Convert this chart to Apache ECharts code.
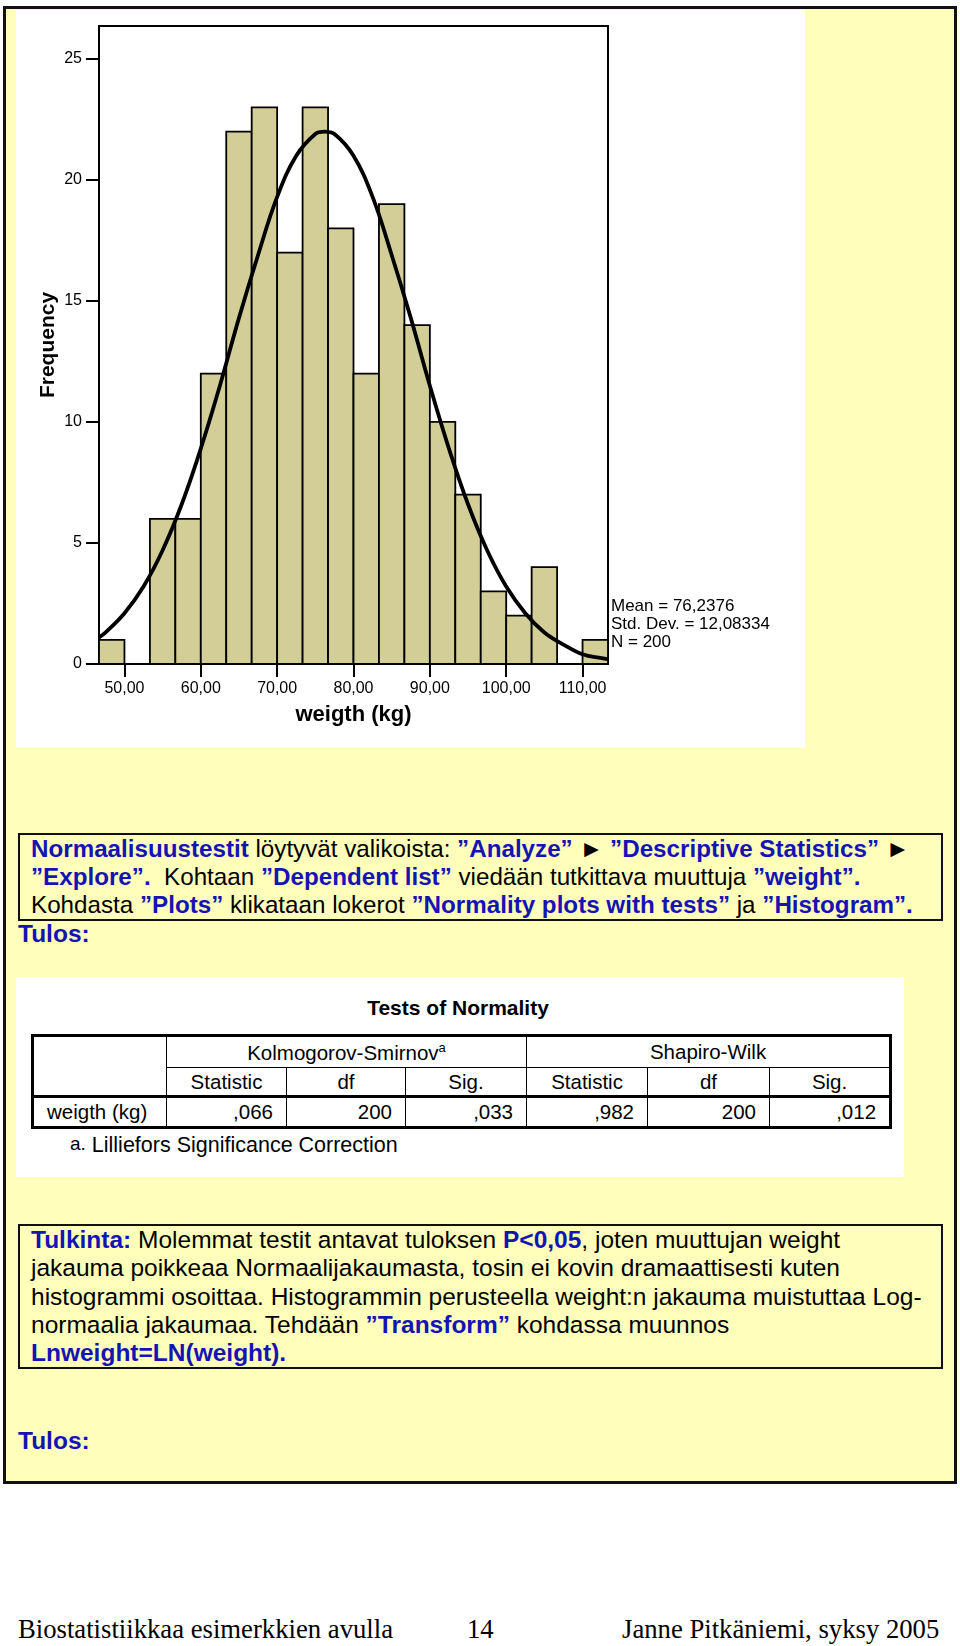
<!DOCTYPE html>
<html>
<head>
<meta charset="utf-8">
<script src="https://cdn.jsdelivr.net/npm/echarts@6.0.0/dist/echarts.min.js"></script>
<style>
  html, body { margin: 0; padding: 0; background: #fff; }
  body { width: 960px; height: 1646px; position: relative; font-family: "Liberation Sans", Arial, sans-serif; }
  .page { position: absolute; left: 3px; top: 6px; width: 954px; height: 1478px; box-sizing: border-box;
          border: 3px solid #111; background: #FFFFBB; }
  .panel { position: absolute; background: #fff; }
  .abs { position: absolute; white-space: nowrap; }
  .blue { color: #1414B4; font-weight: bold; }
  .box { position: absolute; left: 18px; width: 925px; box-sizing: border-box; border: 2px solid #111;
         padding-left: 11px; color: #000; white-space: nowrap; }
  #chart { position: absolute; left: 0; top: 0; width: 960px; height: 760px; }
  table.norm { position: absolute; left: 31px; top: 1034px; width: 858px; border-collapse: collapse;
               table-layout: fixed; border: 3px solid #000; font-size: 20.5px; }
  table.norm td { border-left: 1px solid #000; border-right: 1px solid #000; padding: 0 13px; white-space: nowrap; }
  table.norm .c { text-align: center; }
  table.norm .r { text-align: right; }
  .footer { position: absolute; top: 1614px; font-family: "Liberation Serif", "Times New Roman", serif; font-size: 26.7px; }
</style>
</head>
<body>
<div class="page"></div>
<div class="panel" style="left:16px; top:10px; width:789px; height:738px;"></div>
<div id="chart"></div>

<div class="box" style="top:833px; height:88px; line-height:28px; font-size:24.2px;" id="box1"></div>
<div class="abs blue" style="left:18px; top:920px; font-size:24.5px; line-height:28px;">Tulos:</div>

<div class="panel" style="left:16px; top:977px; width:888px; height:200px;"></div>
<div class="abs" style="left:0; width:916px; text-align:center; top:996px; font-size:21px; font-weight:bold;">Tests of Normality</div>
<table class="norm" id="normTable"></table>
<div class="abs" style="left:70px; top:1133px; font-size:21.5px;"><span style="font-size:19px; position:relative; top:-2px;">a.</span> Lilliefors Significance Correction</div>

<div class="box" style="top:1224px; height:145px; line-height:28.3px; font-size:24.5px;" id="box2"></div>
<div class="abs blue" style="left:18px; top:1427px; font-size:24.5px; line-height:28px;">Tulos:</div>

<div class="footer" style="left:18px;">Biostatistiikkaa esimerkkien avulla</div>
<div class="footer" style="left:467px;">14</div>
<div class="footer" style="left:622px;">Janne Pitkäniemi, syksy 2005</div>

<script>
// histogram of weight, 20 bins of 3.333 kg
const binStart = 46.6667;
const binWidth = 3.3333;
const counts = [1, 0, 6, 6, 12, 22, 23, 17, 23, 18, 12, 19, 14, 10, 7, 3, 2, 4, 0, 1];

// fitted normal curve
const curveX = [46.67, 47.5, 50, 52.5, 55, 57.5, 60, 62.5, 65, 67.5, 70, 72.5, 75, 76.2, 77.5, 80, 82.5, 85, 87.5, 90, 92.5, 95, 97.5, 100, 102.5, 105, 107.5, 110, 112.5, 113.33];
const curveY = [1.1, 1.3, 2.1, 3.2, 4.7, 6.6, 8.9, 11.5, 14.3, 16.9, 19.3, 21.0, 21.9, 22.0, 21.9, 21.0, 19.3, 16.9, 14.3, 11.5, 8.9, 6.6, 4.7, 3.2, 2.1, 1.3, 0.8, 0.4, 0.24, 0.2];

// axis ticks
const xTicks = [50, 60, 70, 80, 90, 100, 110];
const yTicks = [0, 5, 10, 15, 20, 25];

const statLines = ['Mean = 76,2376', 'Std. Dev. = 12,08334', 'N = 200'];

// Tests of Normality table
const testGroups = ['Kolmogorov-Smirnov', 'Shapiro-Wilk'];
const colHeads = ['Statistic', 'df', 'Sig.', 'Statistic', 'df', 'Sig.'];
const rowLabel = 'weigth (kg)';
const rowValues = [',066', '200', ',033', ',982', '200', ',012'];

const FONT = '"Liberation Sans", Arial, sans-serif';

const binData = counts.map((c, i) => [binStart + i * binWidth, binStart + (i + 1) * binWidth, c]);
const curveData = curveX.map((x, i) => [x, curveY[i]]);

const chart = echarts.init(document.getElementById('chart'));

const option = {
    animation: false,
    grid: {
        left: 99, top: 26, width: 509, height: 638,
        show: true, borderColor: '#000', borderWidth: 2, backgroundColor: 'transparent'
    },
    xAxis: {
        type: 'value',
        min: binStart,
        max: binStart + counts.length * binWidth,
        name: 'weigth (kg)',
        nameLocation: 'middle',
        nameGap: 40,
        nameTextStyle: { fontFamily: FONT, fontSize: 22, fontWeight: 'bold', color: '#000' },
        splitLine: { show: false },
        axisLine: { lineStyle: { color: '#000', width: 2 } },
        axisTick: { length: 13, lineStyle: { color: '#000', width: 2 }, customValues: xTicks },
        axisLabel: {
            customValues: xTicks, margin: 17,
            fontFamily: FONT, fontSize: 16, color: '#000',
            formatter: v => v.toFixed(2).replace('.', ',')
        }
    },
    yAxis: {
        type: 'value',
        min: 0,
        max: 26.36,
        name: 'Frequency',
        nameLocation: 'middle',
        nameGap: 40,
        nameMoveOverlap: false,
        nameTextStyle: { fontFamily: FONT, fontSize: 21, fontWeight: 'bold', color: '#000' },
        splitLine: { show: false },
        axisLine: { show: true, lineStyle: { color: '#000', width: 2 } },
        axisTick: { show: true, length: 13, lineStyle: { color: '#000', width: 2 }, customValues: yTicks },
        axisLabel: { customValues: yTicks, margin: 17, fontFamily: FONT, fontSize: 16, color: '#000' }
    },
    graphic: [{
        type: 'text',
        left: 611,
        top: 597,
        style: {
            text: statLines.join('\n'),
            font: '17px ' + FONT,
            fill: '#000',
            lineHeight: 18
        }
    }],
    series: [{
        type: 'custom',
        data: binData,
        encode: { x: [0, 1], y: 2 },
        renderItem: function (params, api) {
            const top = api.coord([api.value(0), api.value(2)]);
            const bottom = api.coord([api.value(1), 0]);
            return {
                type: 'rect',
                shape: { x: top[0], y: top[1], width: bottom[0] - top[0], height: bottom[1] - top[1] },
                style: { fill: '#D3CE98', stroke: '#000', lineWidth: 1.8 }
            };
        },
        z: 2
    }, {
        type: 'line',
        data: curveData,
        smooth: 0.4,
        showSymbol: false,
        lineStyle: { color: '#000', width: 3.8 },
        z: 3
    }]
};

chart.setOption(option);

// text boxes
document.getElementById('box1').innerHTML =
    '<span class="blue">Normaalisuustestit</span> löytyvät valikoista: <span class="blue">”Analyze”</span> ► <span class="blue">”Descriptive Statistics”</span> ►<br>' +
    '<span class="blue">”Explore”.</span>&nbsp; Kohtaan <span class="blue">”Dependent list”</span> viedään tutkittava muuttuja <span class="blue">”weight”.</span><br>' +
    'Kohdasta <span class="blue">”Plots”</span> klikataan lokerot <span class="blue">”Normality plots with tests”</span> ja <span class="blue">”Histogram”.</span>';

document.getElementById('box2').innerHTML =
    '<span class="blue">Tulkinta:</span> Molemmat testit antavat tuloksen <span class="blue">P&lt;0,05</span>, joten muuttujan weight<br>' +
    'jakauma poikkeaa Normaalijakaumasta, tosin ei kovin dramaattisesti kuten<br>' +
    'histogrammi osoittaa. Histogrammin perusteella weight:n jakauma muistuttaa Log-<br>' +
    'normaalia jakaumaa. Tehdään <span class="blue">”Transform”</span> kohdassa muunnos<br>' +
    '<span class="blue">Lnweight=LN(weight).</span>';

// normality table
const colW = [134, 120, 119, 121, 121, 122, 121];
let html = '<colgroup>' + colW.map(w => '<col style="width:' + w + 'px">').join('') + '</colgroup>';
html += '<tr style="height:32px"><td rowspan="2"></td>' +
    '<td colspan="3" class="c" style="border-bottom:1px solid #000">' + testGroups[0] + '<sup style="font-size:13px">a</sup></td>' +
    '<td colspan="3" class="c" style="border-bottom:1px solid #000">' + testGroups[1] + '</td></tr>';
html += '<tr style="height:29px">' + colHeads.map(h => '<td class="c">' + h + '</td>').join('') + '</tr>';
html += '<tr style="height:31px; border-top:3px solid #000"><td>' + rowLabel + '</td>' +
    rowValues.map(v => '<td class="r">' + v + '</td>').join('') + '</tr>';
document.getElementById('normTable').innerHTML = html;
</script>
</body>
</html>
